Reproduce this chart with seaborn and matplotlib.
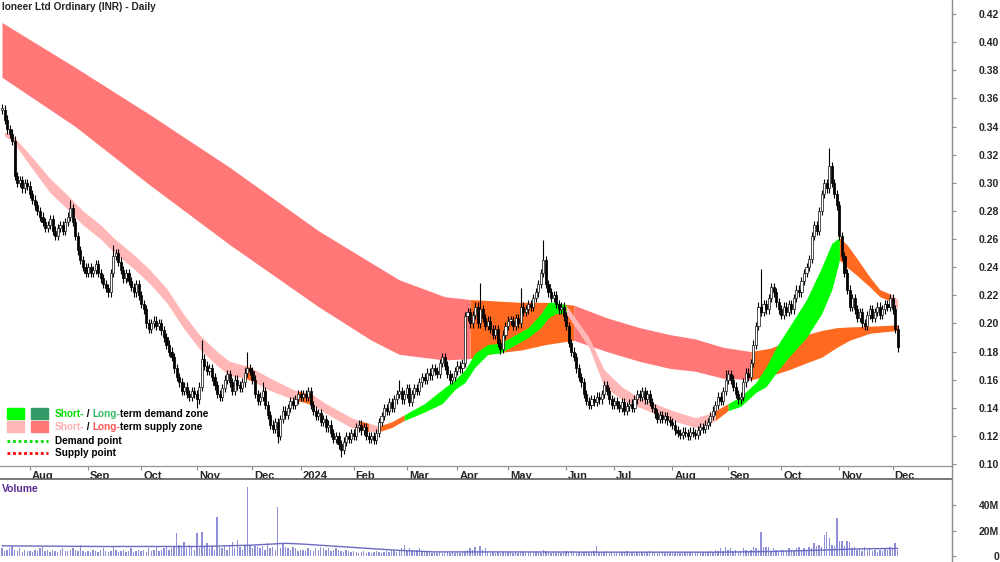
import numpy as np
import pandas as pd
import matplotlib
matplotlib.use("Agg")
import matplotlib.pyplot as plt
from matplotlib.patches import Rectangle
from matplotlib.lines import Line2D
import matplotlib.transforms as mtransforms
import seaborn as sns

# ---------------- data ----------------
# daily closes per month (ASX sessions)
close_2023_07 = [0.352, 0.345, 0.338, 0.335, 0.330, 0.305, 0.300, 0.302, 0.296, 0.300, 0.298]
close_2023_08 = [0.292, 0.288, 0.284, 0.280, 0.276, 0.272, 0.268, 0.270, 0.274, 0.266, 0.262, 0.268,
                 0.270, 0.266, 0.272, 0.276, 0.282, 0.272, 0.262, 0.252, 0.245, 0.240, 0.236]
close_2023_09 = [0.240, 0.236, 0.238, 0.242, 0.236, 0.232, 0.228, 0.225, 0.222, 0.236, 0.248, 0.250,
                 0.244, 0.238, 0.232, 0.236, 0.230, 0.226, 0.222, 0.228, 0.220]
close_2023_10 = [0.214, 0.210, 0.200, 0.196, 0.200, 0.202, 0.198, 0.200, 0.195, 0.190, 0.185, 0.180,
                 0.176, 0.168, 0.162, 0.158, 0.152, 0.155, 0.150, 0.148, 0.152, 0.150]
close_2023_11 = [0.146, 0.155, 0.175, 0.170, 0.166, 0.168, 0.162, 0.156, 0.150, 0.148, 0.154, 0.160,
                 0.164, 0.158, 0.152, 0.160, 0.156, 0.154, 0.158, 0.165, 0.168, 0.166, 0.160]
close_2023_12 = [0.150, 0.145, 0.148, 0.152, 0.142, 0.135, 0.128, 0.125, 0.130, 0.120, 0.132, 0.138,
                 0.135, 0.140, 0.145, 0.142, 0.146, 0.150, 0.148]
close_2024_01 = [0.150, 0.148, 0.152, 0.142, 0.138, 0.134, 0.136, 0.130, 0.132, 0.126, 0.128, 0.122,
                 0.118, 0.120, 0.114, 0.110, 0.116, 0.120, 0.118, 0.122, 0.120]
close_2024_02 = [0.126, 0.128, 0.124, 0.126, 0.120, 0.118, 0.120, 0.117, 0.122, 0.130, 0.134, 0.140,
                 0.138, 0.144, 0.140, 0.146, 0.150, 0.152, 0.146, 0.150, 0.154]
close_2024_03 = [0.144, 0.150, 0.154, 0.152, 0.158, 0.162, 0.160, 0.165, 0.163, 0.168, 0.166, 0.164,
                 0.172, 0.176, 0.170, 0.164, 0.160, 0.162, 0.166, 0.170]
close_2024_04 = [0.168, 0.172, 0.205, 0.208, 0.200, 0.206, 0.212, 0.200, 0.210, 0.204, 0.198, 0.202,
                 0.196, 0.192, 0.196, 0.186, 0.182, 0.192, 0.198, 0.202]
close_2024_05 = [0.202, 0.198, 0.204, 0.200, 0.212, 0.208, 0.210, 0.214, 0.212, 0.218, 0.222, 0.228,
                 0.236, 0.245, 0.228, 0.222, 0.218, 0.220, 0.214, 0.210, 0.212, 0.205, 0.198]
close_2024_06 = [0.186, 0.180, 0.176, 0.168, 0.162, 0.158, 0.150, 0.145, 0.142, 0.146, 0.144, 0.148,
                 0.146, 0.150, 0.156, 0.152, 0.146, 0.142, 0.145]
close_2024_07 = [0.142, 0.140, 0.144, 0.138, 0.141, 0.143, 0.140, 0.146, 0.150, 0.148, 0.152, 0.146,
                 0.150, 0.144, 0.140, 0.136, 0.132, 0.135, 0.132, 0.134, 0.131, 0.130, 0.128]
close_2024_08 = [0.124, 0.122, 0.121, 0.123, 0.122, 0.120, 0.123, 0.122, 0.121, 0.124, 0.126, 0.125,
                 0.128, 0.130, 0.134, 0.138, 0.142, 0.148, 0.145, 0.152, 0.160, 0.164]
close_2024_09 = [0.160, 0.155, 0.150, 0.146, 0.148, 0.158, 0.165, 0.162, 0.172, 0.185, 0.198, 0.212,
                 0.208, 0.214, 0.210, 0.218, 0.226, 0.222, 0.215, 0.210, 0.206]
close_2024_10 = [0.212, 0.208, 0.214, 0.210, 0.218, 0.224, 0.222, 0.230, 0.236, 0.240, 0.246, 0.262,
                 0.270, 0.266, 0.280, 0.292, 0.300, 0.296, 0.312, 0.300, 0.292, 0.284, 0.262]
close_2024_11 = [0.248, 0.236, 0.224, 0.212, 0.218, 0.210, 0.204, 0.208, 0.200, 0.198, 0.206, 0.210,
                 0.204, 0.208, 0.212, 0.206, 0.210, 0.214, 0.212, 0.218, 0.210]
close_2024_12 = [0.196, 0.183]

# long wicks (session number -> price)
spike_high = {0: 0.356, 27: 0.288, 44: 0.256, 79: 0.188, 97: 0.180, 103: 0.158, 157: 0.160,
              189: 0.229, 205: 0.225, 214: 0.259, 286: 0.167, 300: 0.239, 327: 0.325, 351: 0.221}
spike_low = {77: 0.140, 109: 0.115, 134: 0.105, 197: 0.178, 354: 0.180}

# volume in millions
vol_2023_07 = [6, 4, 5, 6, 8, 5, 4, 6, 3, 5, 4]
vol_2023_08 = [4, 3, 5, 4, 6, 7, 4, 5, 3, 5, 4, 3, 5, 6, 4, 4, 5, 6, 5, 4, 9, 4, 3]
vol_2023_09 = [4, 3, 5, 4, 3, 5, 6, 4, 3, 4, 7, 5, 3, 4, 5, 3, 4, 6, 3, 4, 5]
vol_2023_10 = [4, 5, 3, 6, 4, 5, 7, 4, 5, 6, 8, 5, 6, 7, 18, 9, 8, 11, 6, 9, 7, 5]
vol_2023_11 = [18, 6, 19, 7, 10, 6, 8, 5, 31, 7, 6, 9, 5, 8, 11, 6, 13, 7, 5, 8, 55, 9, 6]
vol_2023_12 = [8, 7, 6, 8, 5, 10, 6, 7, 5, 39, 6, 10, 7, 6, 5, 7, 6, 4, 5]
vol_2024_01 = [5, 4, 6, 5, 4, 6, 5, 7, 6, 5, 6, 4, 5, 6, 5, 4, 3, 5, 4, 3, 4]
vol_2024_02 = [3, 2, 3, 4, 2, 3, 2, 3, 4, 3, 2, 3, 4, 3, 5, 4, 3, 4, 6, 9, 5]
vol_2024_03 = [6, 5, 4, 5, 6, 4, 3, 4, 3, 2, 3, 2, 3, 2, 2, 3, 2, 3, 2, 3]
vol_2024_04 = [2, 3, 4, 5, 6, 5, 7, 4, 8, 5, 6, 3, 2, 3, 2, 3, 2, 3, 2, 3]
vol_2024_05 = [3, 2, 3, 2, 4, 3, 2, 3, 2, 3, 4, 3, 2, 5, 4, 3, 2, 3, 2, 3, 2, 3, 4]
vol_2024_06 = [3, 4, 3, 2, 3, 2, 3, 4, 2, 3, 4, 8, 3, 2, 3, 4, 2, 3, 2]
vol_2024_07 = [2, 3, 2, 3, 4, 2, 3, 2, 3, 2, 3, 2, 3, 4, 2, 3, 2, 2, 3, 2, 3, 2, 2]
vol_2024_08 = [2, 3, 2, 2, 3, 2, 3, 2, 2, 3, 2, 3, 2, 3, 4, 3, 5, 4, 6, 4, 7, 5]
vol_2024_09 = [6, 4, 5, 3, 4, 6, 5, 4, 5, 7, 6, 5, 19, 7, 7, 7, 4, 6, 5, 4, 5]
vol_2024_10 = [5, 4, 6, 5, 4, 6, 7, 5, 6, 5, 7, 6, 10, 8, 9, 7, 17, 19, 14, 9, 8, 30, 12]
vol_2024_11 = [12, 8, 12, 11, 6, 7, 5, 6, 4, 7, 5, 6, 4, 5, 3, 5, 4, 6, 5, 7, 6]
vol_2024_12 = [10, 5]

# volume average line (session, millions)
vol_avg_day = [0, 39, 78, 98, 112, 118, 137, 156, 171, 195, 245, 283, 303, 322, 337, 354]
vol_avg_val = [8, 7.5, 7.5, 8.5, 10, 9.5, 7, 4.5, 3.2, 3.2, 3, 3, 3.5, 4.5, 5.5, 6]

# long-term zone edges (session, price) and zone type S=supply, N=neutral
long_day = [0, 29, 58, 90, 125, 146, 157, 175, 185, 195, 205, 215, 226, 239, 252, 264, 274, 285,
            296, 304, 311, 318, 324, 330, 335, 343, 354]
long_top = [0.414, 0.382, 0.349, 0.311, 0.266, 0.243, 0.231, 0.219, 0.217, 0.216, 0.215, 0.215,
            0.213, 0.204, 0.197, 0.192, 0.189, 0.183, 0.180, 0.1825, 0.188, 0.192, 0.195, 0.197,
            0.1975, 0.198, 0.199]
long_bot = [0.375, 0.340, 0.299, 0.256, 0.212, 0.188, 0.178, 0.174, 0.175, 0.179, 0.181, 0.185,
            0.188, 0.180, 0.173, 0.168, 0.166, 0.161, 0.160, 0.163, 0.167, 0.172, 0.176, 0.183,
            0.188, 0.193, 0.195]
long_zone = list("SSSSSSSSNNNNSSSSSSNNNNNNNNN")

# short-term zone edges, D=demand
short_day = [1, 4, 12, 19, 26, 32, 39, 44, 52, 58, 65, 72, 78, 85, 90, 96, 99, 105, 115, 117,
             123, 128, 138, 141, 145, 149, 154, 159, 167, 174, 179, 183, 187, 192, 197, 203, 208,
             213, 216, 219, 223, 232, 238, 245, 251, 258, 265, 274, 280, 282, 287, 292, 298, 302,
             306, 311, 318, 324, 328, 331, 334, 338, 343, 347, 351, 354]
short_top = [0.336, 0.334, 0.318, 0.303, 0.291, 0.280, 0.270, 0.261, 0.249, 0.239, 0.225, 0.206,
             0.192, 0.180, 0.173, 0.170, 0.168, 0.162, 0.153, 0.152, 0.149, 0.143, 0.133, 0.131,
             0.129, 0.127, 0.130, 0.135, 0.143, 0.153, 0.160, 0.167, 0.179, 0.185, 0.186, 0.192,
             0.197, 0.207, 0.215, 0.215, 0.213, 0.190, 0.167, 0.155, 0.148, 0.143, 0.138, 0.133,
             0.136, 0.138, 0.143, 0.148, 0.158, 0.169, 0.183, 0.197, 0.217, 0.240, 0.257, 0.261,
             0.256, 0.246, 0.233, 0.224, 0.221, 0.217]
short_bot = [0.333, 0.330, 0.310, 0.293, 0.281, 0.270, 0.260, 0.251, 0.239, 0.229, 0.215, 0.196,
             0.182, 0.170, 0.163, 0.161, 0.159, 0.153, 0.146, 0.145, 0.142, 0.136, 0.126, 0.125,
             0.123, 0.123, 0.126, 0.131, 0.137, 0.143, 0.153, 0.158, 0.169, 0.178, 0.179, 0.185,
             0.190, 0.197, 0.204, 0.207, 0.207, 0.183, 0.155, 0.146, 0.141, 0.136, 0.131, 0.126,
             0.129, 0.131, 0.138, 0.141, 0.151, 0.155, 0.165, 0.176, 0.190, 0.207, 0.224, 0.245,
             0.240, 0.234, 0.226, 0.219, 0.216, 0.210]
short_zone = list("SSSSSSSSSSSSSSSNSSSNSSSNSNNDDDDDDDDDDDDDSSSSSSSSSNDDDDDDDDDNNNNNSS")

price_ticks = [0.10, 0.12, 0.14, 0.16, 0.18, 0.20, 0.22, 0.24, 0.26, 0.28, 0.30, 0.32, 0.34,
               0.36, 0.38, 0.40, 0.42]
asx_holidays = ["2023-12-25", "2023-12-26", "2024-01-01", "2024-01-26", "2024-03-29",
                "2024-04-01", "2024-04-25", "2024-06-10"]

# ---------------- build table ----------------
close = (close_2023_07 + close_2023_08 + close_2023_09 + close_2023_10 + close_2023_11 +
         close_2023_12 + close_2024_01 + close_2024_02 + close_2024_03 + close_2024_04 +
         close_2024_05 + close_2024_06 + close_2024_07 + close_2024_08 + close_2024_09 +
         close_2024_10 + close_2024_11 + close_2024_12)
volume = (vol_2023_07 + vol_2023_08 + vol_2023_09 + vol_2023_10 + vol_2023_11 + vol_2023_12 +
          vol_2024_01 + vol_2024_02 + vol_2024_03 + vol_2024_04 + vol_2024_05 + vol_2024_06 +
          vol_2024_07 + vol_2024_08 + vol_2024_09 + vol_2024_10 + vol_2024_11 + vol_2024_12)

dates = pd.bdate_range("2023-07-17", periods=len(close), freq="C", holidays=asx_holidays)
df = pd.DataFrame({"date": dates, "close": close, "volume": volume[:len(close)]})
df["session"] = np.arange(len(df))
df["open"] = df["close"].shift(1).fillna(df["close"].iloc[0])
wick = 0.003
df["high"] = df[["open", "close"]].max(axis=1) + wick
df["low"] = df[["open", "close"]].min(axis=1) - wick
for k, v in spike_high.items():
    df.loc[k, "high"] = max(v, df.loc[k, "high"])
for k, v in spike_low.items():
    df.loc[k, "low"] = min(v, df.loc[k, "low"])

# ---------------- style ----------------
sns.set_style("white")
plt.rcParams["font.family"] = ["Liberation Sans", "DejaVu Sans"]

W, H = 1000, 562
fig = plt.figure(figsize=(W / 100, H / 100), dpi=100)
ax = fig.add_axes([0, 1 - 466 / H, 952 / W, 466 / H])
axv = fig.add_axes([0, 0, 952 / W, 83 / H])

xmin, xmax = -0.8, 375.5
ax.set_xlim(xmin, xmax)
ax.set_ylim(0.0986, 0.430)
axv.set_xlim(xmin, xmax)
axv.set_ylim(-4.8, 61)

ORANGE = "#FF6A20"
long_colors = {"S": "#FF7777", "N": ORANGE, "D": "#339966"}
short_colors = {"S": "#FFB6B6", "N": ORANGE, "D": "#00FF00"}


def fill_zone(days, top, bot, zones, colors, z):
    n = len(days)
    s = 0
    while s < n - 1:
        e = s
        while e < n - 1 and zones[e] == zones[s]:
            e += 1
        ax.fill_between(days[s:e + 1], bot[s:e + 1], top[s:e + 1], color=colors[zones[s]],
                        lw=0, zorder=z)
        s = e


fill_zone(long_day, long_top, long_bot, long_zone, long_colors, 1)
fill_zone(short_day, short_top, short_bot, short_zone, short_colors, 2)

# candles
up = df["close"] >= df["open"]
ax.vlines(df["session"], df["low"], df["high"], color="black", lw=0.8, zorder=3)
body_bot = df[["open", "close"]].min(axis=1)
body_h = (df["close"] - df["open"]).abs().clip(lower=0.0009)
ax.bar(df["session"][up], body_h[up], bottom=body_bot[up], width=0.82, color="white",
       edgecolor="#222222", lw=0.55, zorder=4)
ax.bar(df["session"][~up], body_h[~up], bottom=body_bot[~up], width=0.82, color="black",
       edgecolor="black", lw=0.55, zorder=4)

# volume
axv.bar(df["session"], df["volume"], width=0.55, color="#8F8FD8", lw=0)
sns.lineplot(x=vol_avg_day, y=vol_avg_val, ax=axv, color="#6B6BC4", lw=1.0)

# ---------------- axes cosmetics ----------------
for a in (ax, axv):
    for side in ("left", "top", "bottom", "right"):
        a.spines[side].set_visible(False)
ax.spines["bottom"].set_visible(True)
ax.spines["bottom"].set_color("#9A9A9A")
ax.spines["bottom"].set_linewidth(1.0)
axv.spines["top"].set_visible(True)
axv.spines["top"].set_color("#606060")
axv.spines["top"].set_linewidth(1.2)

fig.add_artist(Line2D([952 / W, 952 / W], [0, 1], color="#8A8A8A", lw=1.0))

ax.yaxis.tick_right()
ax.set_yticks(price_ticks)
ax.set_yticklabels([f"{t:.2f}" for t in price_ticks])
ax.tick_params(axis="y", right=True, length=3, width=0.8, color="#8A8A8A", pad=31,
               labelsize=7.5)
for t in ax.get_yticklabels():
    t.set_ha("right")
    t.set_fontweight("bold")

axv.yaxis.tick_right()
axv.set_yticks([0, 20, 40])
axv.set_yticklabels(["0", "20M", "40M"])
axv.tick_params(axis="y", right=True, length=3, width=0.8, color="#8A8A8A", pad=31,
                labelsize=7.5)
for t in axv.get_yticklabels():
    t.set_ha("right")
    t.set_fontweight("bold")
axv.set_xticks([])
axv.set_xlabel("")
axv.set_ylabel("")

# month ticks
first = df.groupby(df["date"].dt.to_period("M"))["session"].first()
first = first.iloc[1:]
labels = ["2024" if p.month == 1 else p.strftime("%b") for p in first.index]
ax.set_xticks(first.values)
ax.set_xticklabels(labels)
ax.tick_params(axis="x", bottom=True, length=3, width=0.8, color="#8A8A8A", pad=0.5,
               labelsize=8)
offset = mtransforms.ScaledTranslation(2 / 100, 0, fig.dpi_scale_trans)
for t in ax.get_xticklabels():
    t.set_ha("left")
    t.set_fontweight("bold")
    t.set_transform(t.get_transform() + offset)


def fx(x):
    return x / W


def fy(y):
    return 1 - y / H


fig.text(fx(2), fy(7), "Ioneer Ltd Ordinary (INR) - Daily", fontsize=7.3, fontweight="bold",
         va="center", ha="left")
fig.text(fx(2), fy(489), "Volume", fontsize=7.5, fontweight="bold", color="#5B2C91",
         va="center", ha="left")

# legend
rows = [414, 427, 441, 453]
for x0, c in ((7, "#00FF00"), (31, "#339966")):
    fig.add_artist(Rectangle((fx(x0), fy(rows[0] + 5)), 17 / W, 11 / H, color=c,
                             transform=fig.transFigure))
for x0, c in ((7, "#FFB6B6"), (31, "#FF7777")):
    fig.add_artist(Rectangle((fx(x0), fy(rows[1] + 5)), 17 / W, 11 / H, color=c,
                             transform=fig.transFigure))
fig.add_artist(Line2D([fx(7), fx(48)], [fy(rows[2]), fy(rows[2])], color="#00DD00", lw=2,
                      ls=(0, (1, 1))))
fig.add_artist(Line2D([fx(7), fx(48)], [fy(rows[3]), fy(rows[3])], color="#FF0000", lw=2,
                      ls=(0, (1, 1))))


def rich(y, parts):
    prev = fig.text(fx(55), fy(y), parts[0][0], color=parts[0][1], fontsize=7.2,
                    fontweight="bold", va="center", ha="left")
    for txt, col in parts[1:]:
        prev = ax.annotate(txt, xy=(1, 0), xycoords=prev, va="bottom", ha="left",
                           color=col, fontsize=7.2, fontweight="bold", annotation_clip=False)


rich(rows[0], [("Short-", "#00DD00"), (" / ", "black"), ("Long-", "#33BB66"),
               ("term demand zone", "black")])
rich(rows[1], [("Short-", "#FFB0B0"), (" / ", "black"), ("Long-", "#FF5555"),
               ("term supply zone", "black")])
rich(rows[2], [("Demand point", "black")])
rich(rows[3], [("Supply point", "black")])

fig.savefig("out.png", dpi=100)
